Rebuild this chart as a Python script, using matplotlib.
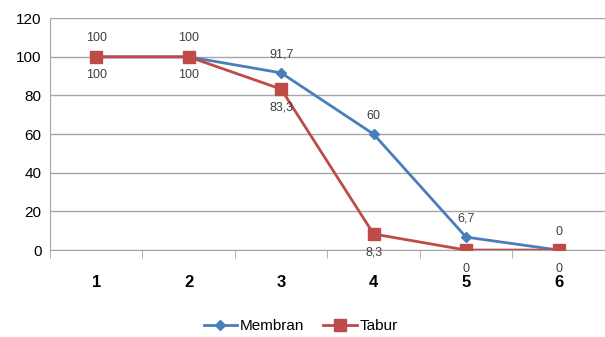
import matplotlib
matplotlib.use('Agg')
import matplotlib.pyplot as plt

categories = ['1', '2', '3', '4', '5', '6']
membran = [100, 100, 91.7, 60, 6.7, 0]
tabur = [100, 100, 83.3, 8.3, 0, 0]

blue = '#4a7ebb'
red = '#be4b48'
grey = '#a6a6a6'

plt.rcParams['font.family'] = ['Liberation Sans', 'DejaVu Sans']

fig = plt.figure(figsize=(6.05, 3.37), dpi=100)
ax = fig.add_axes([0.0826, 0.258, 0.917, 0.688])

x = list(range(1, len(categories) + 1))
ax.plot(x, membran, color=blue, marker='D', markersize=5, linewidth=2, label='Membran', zorder=3)
ax.plot(x, tabur, color=red, marker='s', markersize=8, linewidth=2, label='Tabur', zorder=3)


def fmt(v):
    return ('%g' % v).replace('.', ',')


for xi, v in zip(x, membran):
    ax.annotate(fmt(v), (xi, v), xytext=(0, 9), textcoords='offset points',
                ha='center', va='bottom', fontsize=9, color='#404040')
for xi, v in zip(x, tabur):
    ax.annotate(fmt(v), (xi, v), xytext=(0, -9), textcoords='offset points',
                ha='center', va='top', fontsize=9, color='#404040')

ax.set_xlim(0.5, 6.5)
ax.set_ylim(0, 120)
ax.set_yticks(range(0, 121, 20))
ax.set_xticks(x)
ax.set_xticklabels(categories, fontsize=12, fontweight='bold')
ax.set_xticks([i + 0.5 for i in range(0, 7)], minor=True)
ax.tick_params(axis='x', which='major', length=0, pad=18)
ax.tick_params(axis='x', which='minor', length=6, color=grey)
ax.tick_params(axis='y', length=0, labelsize=11, pad=6)

ax.yaxis.grid(True, color=grey, linewidth=1)
ax.set_axisbelow(True)
for s in ['top', 'right']:
    ax.spines[s].set_visible(False)
ax.spines['left'].set_color(grey)
ax.spines['bottom'].set_color(grey)

fig.legend(*ax.get_legend_handles_labels(), loc='center', bbox_to_anchor=(0.497, 0.033),
           ncol=2, frameon=False, fontsize=11, handlelength=2.2,
           handletextpad=0.2, columnspacing=1.2)

fig.savefig('out.png', dpi=100)
